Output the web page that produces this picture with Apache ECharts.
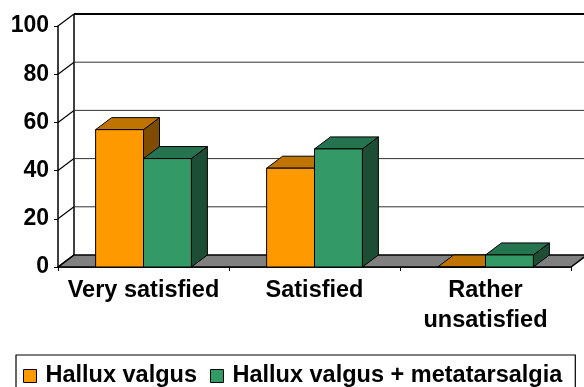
<!DOCTYPE html>
<html>
<head>
<meta charset="utf-8">
<script src="https://cdn.jsdelivr.net/npm/echarts@6/dist/echarts.min.js"></script>
<style>
html,body{margin:0;padding:0;background:#fff;}
#chart{width:584px;height:387px;}
</style>
</head>
<body>
<div id="chart"></div>
<script>
const categories = ['Very satisfied', 'Satisfied', 'Rather\nunsatisfied'];
const seriesNames = ['Hallux valgus', 'Hallux valgus + metatarsalgia'];
const halluxValgus = [57, 41, 0];
const halluxMeta = [45, 49, 5];
const yTicks = [0, 20, 40, 60, 80, 100];

const DX = 16, DY = -12;
const FONT = 'Liberation Sans, Arial, sans-serif';

const palettes = [
  { front: '#FF9900', top: '#BF7300', side: '#7F4C00' },
  { front: '#339966', top: '#267350', side: '#1E4D35' }
];

function wallRender(params, api) {
  const cs = params.coordSys;
  const v = api.value(1);
  const y = api.coord([0, v])[1];
  const x0 = cs.x, x1 = cs.x + cs.width;
  const children = [];
  if (v === 0) {
    children.push({
      type: 'polygon',
      shape: { points: [[x0, y], [x1, y], [x1 + DX, y + DY], [x0 + DX, y + DY]] },
      style: { fill: '#808080', stroke: '#000', lineWidth: 1.5 }
    });
    const yTop = api.coord([0, 100])[1];
    children.push({
      type: 'line',
      shape: { x1: x0 + DX, y1: y + DY, x2: x0 + DX, y2: yTop + DY },
      style: { stroke: '#000', lineWidth: 1.5 }
    });
  } else {
    children.push({
      type: 'line',
      shape: { x1: x0 + DX, y1: y + DY, x2: x1 + DX + 20, y2: y + DY },
      style: { stroke: v === 100 ? '#000' : '#333', lineWidth: v === 100 ? 2 : 1 }
    });
  }
  children.push({
    type: 'line',
    shape: { x1: x0, y1: y, x2: x0 + DX, y2: y + DY },
    style: { stroke: '#000', lineWidth: 1.2 }
  });
  return { type: 'group', children: children };
}

function makeBarRender(idx) {
  const pal = palettes[idx];
  return function (params, api) {
    const cat = api.value(0);
    const val = api.value(1);
    const top = api.coord([cat, val]);
    const base = api.coord([cat, 0]);
    const band = api.size([1, 0])[0];
    const w = band * 0.28;
    const x0 = top[0] - w + idx * w;
    const x1 = x0 + w;
    const yt = top[1], yb = base[1];
    return {
      type: 'group',
      children: [
        {
          type: 'polygon',
          shape: { points: [[x1, yt], [x1 + DX, yt + DY], [x1 + DX, yb + DY], [x1, yb]] },
          style: { fill: pal.side, stroke: '#000', lineWidth: 1 }
        },
        {
          type: 'polygon',
          shape: { points: [[x0, yt], [x1, yt], [x1 + DX, yt + DY], [x0 + DX, yt + DY]] },
          style: { fill: pal.top, stroke: '#000', lineWidth: 1 }
        },
        {
          type: 'rect',
          shape: { x: x0, y: yt, width: w, height: yb - yt },
          style: { fill: pal.front, stroke: '#000', lineWidth: 1 }
        }
      ]
    };
  };
}

const chart = echarts.init(document.getElementById('chart'), null, { renderer: 'canvas' });
chart.setOption({
  animation: false,
  backgroundColor: '#fff',
  grid: { left: 58, right: 13, top: 26, bottom: 120, containLabel: false },
  xAxis: {
    type: 'category',
    data: categories,
    boundaryGap: true,
    axisLine: { show: true, lineStyle: { color: '#000', width: 1.5 } },
    axisTick: { show: true, length: 4, lineStyle: { color: '#000', width: 1 } },
    axisLabel: {
      interval: 0, color: '#000', fontWeight: 'bold', fontSize: 23.5,
      fontFamily: FONT, lineHeight: 30, margin: 9
    },
    splitLine: { show: false }
  },
  yAxis: {
    type: 'value', min: 0, max: 100, interval: 20,
    axisLine: { show: true, lineStyle: { color: '#000', width: 1.5 } },
    axisTick: { show: true, length: 4, lineStyle: { color: '#000', width: 1 } },
    axisLabel: { color: '#000', fontWeight: 'bold', fontSize: 23, fontFamily: FONT, margin: 9 },
    splitLine: { show: false }
  },
  legend: {
    data: seriesNames,
    left: 16, top: 355,
    orient: 'horizontal',
    icon: 'rect',
    itemWidth: 13, itemHeight: 13, itemGap: 13,
    padding: [9, 13, 16, 7],
    borderColor: '#000', borderWidth: 1.2, borderRadius: 0,
    itemStyle: { borderColor: '#000', borderWidth: 1 },
    formatter: function (name) { return '{t|' + name + '}'; },
    textStyle: {
      color: '#000', fontWeight: 'bold', fontSize: 23.5, fontFamily: FONT,
      rich: { t: { color: '#000', fontWeight: 'bold', fontSize: 23.5, fontFamily: FONT, padding: [0, 0, 0, 4] } }
    }
  },
  series: [
    {
      name: 'wall', type: 'custom', silent: true, clip: false,
      renderItem: wallRender,
      encode: { x: 0, y: 1 },
      data: yTicks.map(function (v) { return [0, v]; }),
      z: 1
    },
    {
      name: seriesNames[0], type: 'custom', clip: false,
      renderItem: makeBarRender(0),
      encode: { x: 0, y: 1 },
      itemStyle: { color: palettes[0].front, borderColor: '#000', borderWidth: 1 },
      data: halluxValgus.map(function (v, i) { return [i, v]; }),
      z: 2
    },
    {
      name: seriesNames[1], type: 'custom', clip: false,
      renderItem: makeBarRender(1),
      encode: { x: 0, y: 1 },
      itemStyle: { color: palettes[1].front, borderColor: '#000', borderWidth: 1 },
      data: halluxMeta.map(function (v, i) { return [i, v]; }),
      z: 3
    }
  ]
});
</script>
</body>
</html>
